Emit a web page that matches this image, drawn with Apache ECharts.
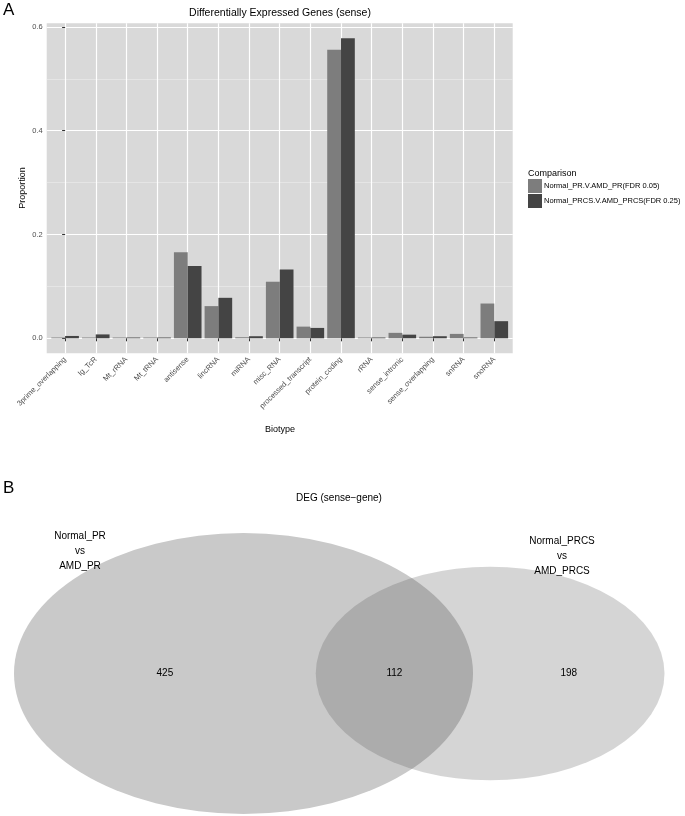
<!DOCTYPE html>
<html>
<head>
<meta charset="utf-8">
<script src="https://cdn.jsdelivr.net/npm/echarts@6/dist/echarts.min.js"></script>
<style>
html,body{margin:0;padding:0;background:#fff;}
#chart{width:685px;height:816px;}
</style>
</head>
<body>
<div id="chart"></div>
<script>
// ---------- data ----------
const categories = ['3prime_overlapping','Ig_TcR','Mt_rRNA','Mt_tRNA','antisense','lincRNA','miRNA','misc_RNA','processed_transcript','protein_coding','rRNA','sense_intronic','sense_overlapping','snRNA','snoRNA'];
const prValues   = [0.0015, 0.0015, 0.0015, 0.0015, 0.166, 0.062, 0.002, 0.109, 0.0225, 0.556, 0.0015, 0.0105, 0.003, 0.0085, 0.067];
const prcsValues = [0.0045, 0.0075, 0.0015, 0.0015, 0.1395, 0.078, 0.004, 0.1325, 0.020, 0.578, 0.0015, 0.007, 0.004, 0.0015, 0.033];
const seriesNames = ['Normal_PR.V.AMD_PR(FDR 0.05)', 'Normal_PRCS.V.AMD_PRCS(FDR 0.25)'];
const yTickValues = [0, 0.2, 0.4, 0.6];
const yMinorValues = [0.1, 0.3, 0.5];

const vennSetLabels = ['Normal_PR\nvs\nAMD_PR', 'Normal_PRCS\nvs\nAMD_PRCS'];
const vennOnlyLeft = 425;
const vennBoth = 112;
const vennOnlyRight = 198;

// ---------- venn geometry from the counts (area-proportional) ----------
const sizeLeft = vennOnlyLeft + vennBoth;
const sizeRight = vennOnlyRight + vennBoth;
const r1 = Math.sqrt(sizeLeft / Math.PI);
const r2 = Math.sqrt(sizeRight / Math.PI);
function lensArea(a, b, d) {
  if (d >= a + b) return 0;
  if (d <= Math.abs(a - b)) return Math.PI * Math.min(a, b) ** 2;
  const t1 = a * a * Math.acos((d * d + a * a - b * b) / (2 * d * a));
  const t2 = b * b * Math.acos((d * d + b * b - a * a) / (2 * d * b));
  const t3 = 0.5 * Math.sqrt((-d + a + b) * (d + a - b) * (d - a + b) * (d + a + b));
  return t1 + t2 - t3;
}
let lo = Math.abs(r1 - r2), hi = r1 + r2;
for (let k = 0; k < 80; k++) {
  const mid = (lo + hi) / 2;
  if (lensArea(r1, r2, mid) > vennBoth) lo = mid; else hi = mid;
}
const dist = (lo + hi) / 2;
const vennCircles = [[0, 0, r1], [dist, 0, r2]];
const vennCounts = [
  [(-r1 + (dist - r2)) / 2, 0, vennOnlyLeft],
  [((dist - r2) + r1) / 2, 0, vennBoth],
  [(r1 + (dist + r2)) / 2, 0, vennOnlyRight]
];

const FONT = 'Liberation Sans, Arial, Helvetica, sans-serif';
const chart = echarts.init(document.getElementById('chart'), null, {renderer: 'canvas'});

const option = {
  animation: false,
  backgroundColor: '#ffffff',
  textStyle: {fontFamily: FONT},
  grid: [
    {left: 46.7, top: 23.3, width: 466, height: 330, show: true, backgroundColor: '#d9d9d9', borderWidth: 0, containLabel: false},
    {left: 0, top: 480, width: 685, height: 336, show: false, containLabel: false}
  ],
  legend: {
    orient: 'vertical',
    left: 528, top: 179,
    padding: 0,
    itemWidth: 14, itemHeight: 14, itemGap: 1,
    icon: 'rect',
    selectedMode: false,
    data: seriesNames,
    textStyle: {fontSize: 7.5, color: '#000', fontFamily: FONT, padding: [0, 0, 0, -3]}
  },
  xAxis: [
    {
      type: 'value', gridIndex: 0, min: -0.6, max: 14.6,
      axisLine: {show: false},
      axisTick: {show: true, length: 3, customValues: categories.map((c, i) => i), lineStyle: {color: '#333', width: 1}},
      axisLabel: {
        show: true, customValues: categories.map((c, i) => i), rotate: 45, margin: 5,
        fontSize: 7.5, color: '#4d4d4d', fontFamily: FONT,
        formatter: v => categories[Math.round(v)] || ''
      },
      splitLine: {show: true, lineStyle: {color: '#ffffff', width: 1.2}}
    },
    {
      type: 'value', gridIndex: 1, min: -13.871, max: 25.151, show: false
    }
  ],
  yAxis: [
    {
      type: 'value', gridIndex: 0, min: -0.0289, max: 0.6069, position: 'left',
      axisLine: {show: false},
      axisTick: {show: true, length: 3, customValues: yTickValues, lineStyle: {color: '#333', width: 1}},
      axisLabel: {show: true, customValues: yTickValues, margin: 4, fontSize: 7.5, color: '#4d4d4d', fontFamily: FONT, formatter: v => v.toFixed(1)},
      splitLine: {show: true, lineStyle: {color: '#ffffff', width: 1.2}}
    },
    {
      type: 'value', gridIndex: 0, min: -0.0289, max: 0.6069, position: 'left',
      axisLine: {show: false},
      axisTick: {show: false, customValues: yMinorValues},
      axisLabel: {show: false, customValues: yMinorValues},
      splitLine: {show: true, lineStyle: {color: '#ececec', width: 0.6}}
    },
    {
      type: 'value', gridIndex: 1, min: -13.26, max: 18.005, show: false
    }
  ],
  series: [
    {
      name: seriesNames[0], type: 'bar', xAxisIndex: 0, yAxisIndex: 0,
      barWidth: 13.8, barGap: '0%',
      itemStyle: {color: '#7d7d7d'},
      data: categories.map((c, i) => [i, prValues[i]])
    },
    {
      name: seriesNames[1], type: 'bar', xAxisIndex: 0, yAxisIndex: 0,
      barWidth: 13.8, barGap: '0%',
      itemStyle: {color: '#444444'},
      data: categories.map((c, i) => [i, prcsValues[i]])
    },
    {
      type: 'custom', xAxisIndex: 1, yAxisIndex: 2, silent: true,
      data: vennCircles,
      renderItem: (params, api) => {
        const c = api.coord([api.value(0), api.value(1)]);
        const s = api.size([api.value(2), api.value(2)]);
        const fill = params.dataIndex === 0 ? '#c9c9c9' : 'rgba(80,80,80,0.24)';
        return {
          type: 'circle', x: c[0], y: c[1], scaleX: s[0], scaleY: s[1],
          shape: {cx: 0, cy: 0, r: 1},
          style: {fill: fill, stroke: null}
        };
      }
    },
    {
      type: 'custom', xAxisIndex: 1, yAxisIndex: 2, silent: true, z: 5,
      data: vennCounts,
      renderItem: (params, api) => {
        const c = api.coord([api.value(0), api.value(1)]);
        return {
          type: 'text', x: c[0], y: c[1],
          style: {text: String(api.value(2)), fill: '#000', fontSize: 10, fontFamily: FONT, align: 'center', verticalAlign: 'middle'}
        };
      }
    }
  ],
  graphic: [
    {type: 'text', z: 100, left: 3, top: 2, style: {text: 'A', fontSize: 17, fill: '#000', fontFamily: FONT}},
    {type: 'text', z: 100, x: 280, y: 13.3, style: {text: 'Differentially Expressed Genes (sense)', fontSize: 10.5, fill: '#000', fontFamily: FONT, align: 'center', verticalAlign: 'middle'}},
    {type: 'text', z: 100, x: 22.7, y: 188, rotation: Math.PI / 2, style: {text: 'Proportion', fontSize: 9, fill: '#000', fontFamily: FONT, align: 'center', verticalAlign: 'middle'}},
    {type: 'text', z: 100, x: 280, y: 430, style: {text: 'Biotype', fontSize: 9, fill: '#000', fontFamily: FONT, align: 'center', verticalAlign: 'middle'}},
    {type: 'text', z: 100, x: 528, y: 173.3, style: {text: 'Comparison', fontSize: 9, fill: '#000', fontFamily: FONT, align: 'left', verticalAlign: 'middle'}},
    {type: 'text', z: 100, left: 3, top: 480, style: {text: 'B', fontSize: 17, fill: '#000', fontFamily: FONT}},
    {type: 'text', z: 100, x: 339, y: 498, style: {text: 'DEG (sense\u2212gene)', fontSize: 10, fill: '#000', fontFamily: FONT, align: 'center', verticalAlign: 'middle'}},
    {type: 'text', z: 100, x: 80, y: 551, style: {text: vennSetLabels[0], fontSize: 10, lineHeight: 15, fill: '#000', fontFamily: FONT, align: 'center', verticalAlign: 'middle'}},
    {type: 'text', z: 100, x: 562, y: 556, style: {text: vennSetLabels[1], fontSize: 10, lineHeight: 15, fill: '#000', fontFamily: FONT, align: 'center', verticalAlign: 'middle'}}
  ]
};
chart.setOption(option);
</script>
</body>
</html>
